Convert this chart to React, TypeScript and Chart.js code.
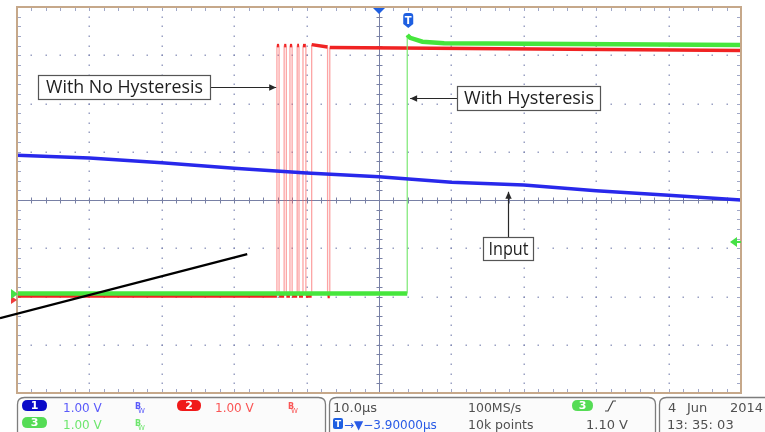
import React, { useEffect, useRef } from "react";
import { Chart, registerables } from "chart.js";

Chart.register(...registerables);

// ---- Data (time in µs, 10 µs/div; level in screen divisions) ----
const inputTimes = [-50, -40, -30, -20, -10, 0, 10, 20, 30, 40, 50];
const inputLevels = [0.93, 0.87, 0.77, 0.66, 0.56, 0.48, 0.37, 0.31, 0.19, 0.1, 0.0];

const hystTimes = [-50, 3.9, 3.9, 4.3, 6.0, 9.0, 50];
const hystLevels = [-1.94, -1.94, 3.42, 3.36, 3.28, 3.25, 3.21];

const noHystTimes = [
  -50, -14.1, -14.1, -13.8, -13.8, -13.1, -13.1, -12.8, -12.8, -12.3, -12.3, -12.0, -12.0,
  -11.3, -11.3, -11.05, -11.05, -10.5, -10.5, -10.1, -10.1, -9.3, -9.3, -7.1, -7.1, -6.8, -6.8, 50,
];
const noHystLevels = [
  -1.99, -1.99, 3.2, 3.2, -1.99, -1.99, 3.2, 3.2, -1.99, -1.99, 3.2, 3.2, -1.99,
  -1.99, 3.2, 3.2, -1.99, -1.99, 3.2, 3.2, -1.99, -1.99, 3.22, 3.17, -2.0, -2.0, 3.16, 3.1,
];

const xTicks = [-50, -40, -30, -20, -10, 0, 10, 20, 30, 40, 50];
const yTicks = [-4, -3, -2, -1, 0, 1, 2, 3, 4];

const triggerTime = 3.9;
const triggerLevel = -0.87;
const ch3Ground = -1.95;
const ch2Ground = -2.07;

// annotation anchors (data coordinates)
const labelNoHyst = { text: "With No Hysteresis", x0: -47.1, x1: -23.3, yTop: 2.59, yBot: 2.09, tipX: -14.2, tipY: 2.34, textW: 157 };
const labelHyst = { text: "With Hysteresis", x0: 10.8, x1: 30.5, yTop: 2.36, yBot: 1.87, tipX: 4.3, tipY: 2.11, textW: 130 };
const labelInput = { text: "Input", x0: 14.4, x1: 21.3, yTop: -0.77, yBot: -1.24, tipX: 17.8, tipY: 0.17, textW: 40 };
const diagLine = { x0: -52.35, y0: -2.45, x1: -18.2, y1: -1.12 };

const pts = (xs: number[], ys: number[]) => xs.map((x, i) => ({ x, y: ys[i] }));

function rr(ctx: CanvasRenderingContext2D, x: number, y: number, w: number, h: number, r: number) {
  ctx.beginPath();
  ctx.moveTo(x + r, y);
  ctx.lineTo(x + w - r, y);
  ctx.quadraticCurveTo(x + w, y, x + w, y + r);
  ctx.lineTo(x + w, y + h - r);
  ctx.quadraticCurveTo(x + w, y + h, x + w - r, y + h);
  ctx.lineTo(x + r, y + h);
  ctx.quadraticCurveTo(x, y + h, x, y + h - r);
  ctx.lineTo(x, y + r);
  ctx.quadraticCurveTo(x, y, x + r, y);
  ctx.closePath();
}

function pill(ctx: CanvasRenderingContext2D, x: number, y: number, w: number, h: number, fill: string, label: string) {
  rr(ctx, x, y, w, h, h / 2);
  ctx.fillStyle = fill;
  ctx.fill();
  ctx.fillStyle = "#ffffff";
  ctx.font = "bold 11px 'DejaVu Sans'";
  ctx.textAlign = "center";
  ctx.textBaseline = "middle";
  ctx.fillText(label, x + w / 2, y + h / 2 + 0.5);
  ctx.textAlign = "left";
  ctx.textBaseline = "alphabetic";
}

function bw(ctx: CanvasRenderingContext2D, x: number, y: number, color: string) {
  ctx.fillStyle = color;
  ctx.font = "bold 8px 'DejaVu Sans'";
  ctx.fillText("B", x, y - 3);
  ctx.font = "7px 'DejaVu Sans'";
  ctx.fillText("W", x + 3, y + 1);
}

function arrowHead(ctx: CanvasRenderingContext2D, tx: number, ty: number, dx: number, dy: number) {
  const len = Math.hypot(dx, dy);
  const ux = dx / len, uy = dy / len;
  const L = 7, W = 3.2;
  ctx.beginPath();
  ctx.moveTo(tx, ty);
  ctx.lineTo(tx - ux * L - uy * W, ty - uy * L + ux * W);
  ctx.lineTo(tx - ux * L + uy * W, ty - uy * L - ux * W);
  ctx.closePath();
  ctx.fill();
}

const scopePlugin = {
  id: "scopeOverlay",
  beforeDraw(chart: any) {
    const { ctx, width, height } = chart;
    ctx.save();
    ctx.fillStyle = "#ffffff";
    ctx.fillRect(0, 0, width, height);
    ctx.restore();
  },
  beforeDatasetsDraw(chart: any) {
    const { ctx, chartArea: a } = chart;
    const xs = chart.scales.x, ys = chart.scales.y;
    ctx.save();
    // dotted grid
    ctx.fillStyle = "rgba(120,130,175,0.75)";
    for (const t of xTicks) {
      if (t === 0 || t === xTicks[0] || t === xTicks[xTicks.length - 1]) continue;
      const px = Math.round(xs.getPixelForValue(t));
      for (let m = -20; m <= 20; m++) {
        const py = Math.round(ys.getPixelForValue(m * 0.2));
        ctx.fillRect(px - 0.5, py - 0.5, 1.5, 1.5);
      }
    }
    for (const v of yTicks) {
      if (v === 0 || v === yTicks[0] || v === yTicks[yTicks.length - 1]) continue;
      const py = Math.round(ys.getPixelForValue(v));
      for (let m = -25; m <= 25; m++) {
        const px = Math.round(xs.getPixelForValue(m * 2));
        ctx.fillRect(px - 0.5, py - 0.5, 1.5, 1.5);
      }
    }
    // center crosshair
    const cx = Math.round(xs.getPixelForValue(0)) + 0.5;
    const cy = Math.round(ys.getPixelForValue(0)) + 0.5;
    ctx.strokeStyle = "rgb(120,128,165)";
    ctx.lineWidth = 1;
    ctx.beginPath();
    ctx.moveTo(a.left, cy);
    ctx.lineTo(a.right, cy);
    ctx.moveTo(cx, a.top);
    ctx.lineTo(cx, a.bottom);
    for (let m = -25; m <= 25; m++) {
      const px = Math.round(xs.getPixelForValue(m * 2)) + 0.5;
      ctx.moveTo(px, cy - 3);
      ctx.lineTo(px, cy + 3);
    }
    for (let m = -20; m <= 20; m++) {
      const py = Math.round(ys.getPixelForValue(m * 0.2)) + 0.5;
      ctx.moveTo(cx - 3, py);
      ctx.lineTo(cx + 3, py);
    }
    ctx.stroke();
    // edge ticks
    ctx.strokeStyle = "rgba(120,130,175,0.7)";
    ctx.beginPath();
    for (let m = -25; m <= 25; m++) {
      const px = Math.round(xs.getPixelForValue(m * 2)) + 0.5;
      ctx.moveTo(px, a.top);
      ctx.lineTo(px, a.top + 4);
      ctx.moveTo(px, a.bottom);
      ctx.lineTo(px, a.bottom - 4);
    }
    for (let m = -20; m <= 20; m++) {
      const py = Math.round(ys.getPixelForValue(m * 0.2)) + 0.5;
      ctx.moveTo(a.left, py);
      ctx.lineTo(a.left + 4, py);
      ctx.moveTo(a.right, py);
      ctx.lineTo(a.right - 4, py);
    }
    ctx.stroke();
    ctx.restore();
  },
  afterDatasetsDraw(chart: any) {
    const { ctx, chartArea: a } = chart;
    const xs = chart.scales.x, ys = chart.scales.y;
    const X = (v: number) => xs.getPixelForValue(v);
    const Y = (v: number) => ys.getPixelForValue(v);
    ctx.save();
    // frame
    ctx.strokeStyle = "rgb(198,168,138)";
    ctx.lineWidth = 2;
    ctx.strokeRect(a.left, a.top, a.right - a.left, a.bottom - a.top);

    // trigger position marker
    const cx = X(0);
    ctx.fillStyle = "rgb(30,95,225)";
    ctx.beginPath();
    ctx.moveTo(cx - 6, a.top + 1);
    ctx.lineTo(cx + 6, a.top + 1);
    ctx.lineTo(cx, a.top + 7);
    ctx.closePath();
    ctx.fill();
    // T badge
    const tx = X(triggerTime) + 1;
    ctx.beginPath();
    ctx.moveTo(tx - 5, 16);
    ctx.quadraticCurveTo(tx - 5, 13, tx - 2, 13);
    ctx.lineTo(tx + 2, 13);
    ctx.quadraticCurveTo(tx + 5, 13, tx + 5, 16);
    ctx.lineTo(tx + 5, 24);
    ctx.lineTo(tx, 28);
    ctx.lineTo(tx - 5, 24);
    ctx.closePath();
    ctx.fill();
    ctx.fillStyle = "#ffffff";
    ctx.font = "bold 10px 'DejaVu Sans'";
    ctx.textAlign = "center";
    ctx.fillText("T", tx, 24);
    ctx.textAlign = "left";

    // trigger level arrow (right)
    const ty = Y(triggerLevel);
    ctx.fillStyle = "rgb(70,225,70)";
    ctx.beginPath();
    ctx.moveTo(a.right - 11, ty);
    ctx.lineTo(a.right - 4, ty - 5);
    ctx.lineTo(a.right - 4, ty + 5);
    ctx.closePath();
    ctx.fill();
    ctx.fillRect(a.right - 5, ty - 1, 5, 2);

    // ground markers (left)
    const g2 = Y(ch2Ground);
    ctx.fillStyle = "rgb(240,60,60)";
    ctx.beginPath();
    ctx.moveTo(a.left - 6, g2 - 4);
    ctx.lineTo(a.left, g2);
    ctx.lineTo(a.left - 6, g2 + 4);
    ctx.closePath();
    ctx.fill();
    const g3 = Y(ch3Ground);
    ctx.fillStyle = "rgb(70,225,70)";
    ctx.beginPath();
    ctx.moveTo(a.left - 6, g3 - 5);
    ctx.lineTo(a.left + 1, g3);
    ctx.lineTo(a.left - 6, g3 + 5);
    ctx.closePath();
    ctx.fill();

    // annotations
    const drawLabel = (lb: any) => {
      const x0 = Math.round(X(lb.x0)) + 0.5, x1 = Math.round(X(lb.x1)) + 0.5;
      const y0 = Math.round(Y(lb.yTop)) + 0.5, y1 = Math.round(Y(lb.yBot)) + 0.5;
      ctx.fillStyle = "#ffffff";
      ctx.fillRect(x0, y0, x1 - x0, y1 - y0);
      ctx.strokeStyle = "rgb(85,85,85)";
      ctx.lineWidth = 1.2;
      ctx.strokeRect(x0, y0, x1 - x0, y1 - y0);
      ctx.font = "18px 'Open Sans'";
      const w = ctx.measureText(lb.text).width;
      ctx.save();
      ctx.translate((x0 + x1) / 2, y0 + 17.5);
      ctx.scale(lb.textW / w, 1);
      ctx.textAlign = "center";
      ctx.fillStyle = "rgb(30,30,30)";
      ctx.fillText(lb.text, 0, 0);
      ctx.restore();
    };
    const drawArrow = (fx: number, fy: number, txp: number, typ: number) => {
      ctx.strokeStyle = "rgb(40,40,40)";
      ctx.fillStyle = "rgb(40,40,40)";
      ctx.lineWidth = 1.2;
      ctx.beginPath();
      ctx.moveTo(fx, fy);
      ctx.lineTo(txp, typ);
      ctx.stroke();
      arrowHead(ctx, txp, typ, txp - fx, typ - fy);
    };
    {
      const lb = labelNoHyst;
      const yy = Math.round(Y(lb.tipY)) + 0.5;
      drawArrow(X(lb.x1), yy, X(lb.tipX), yy);
      drawLabel(lb);
    }
    {
      const lb = labelHyst;
      const yy = Math.round(Y(lb.tipY)) + 0.5;
      drawArrow(X(lb.x0), yy, X(lb.tipX), yy);
      drawLabel(lb);
    }
    {
      const lb = labelInput;
      const xx = Math.round(X(lb.tipX)) + 0.5;
      drawArrow(xx, Y(lb.yTop), xx, Y(lb.tipY));
      drawLabel(lb);
    }
    // diagonal pointer line
    ctx.strokeStyle = "#000000";
    ctx.lineWidth = 2.4;
    ctx.beginPath();
    ctx.moveTo(X(diagLine.x0), Y(diagLine.y0));
    ctx.lineTo(X(diagLine.x1), Y(diagLine.y1));
    ctx.stroke();

    // status bar
    const top = 397.5;
    ctx.lineWidth = 1.3;
    ctx.strokeStyle = "rgb(125,125,125)";
    ctx.fillStyle = "rgb(251,251,251)";
    rr(ctx, 17.5, top, 308, 50, 7);
    ctx.fill();
    ctx.stroke();
    rr(ctx, 329.5, top, 326, 50, 7);
    ctx.fillStyle = "rgb(251,251,251)";
    ctx.fill();
    ctx.stroke();
    rr(ctx, 659.5, top, 120, 50, 7);
    ctx.fillStyle = "rgb(251,251,251)";
    ctx.fill();
    ctx.stroke();

    const r1 = 412, r2 = 429;
    pill(ctx, 22, 400, 25, 11, "rgb(10,10,200)", "1");
    pill(ctx, 177, 400, 24, 11, "rgb(240,25,25)", "2");
    pill(ctx, 22, 417, 25, 11, "rgb(85,220,85)", "3");
    ctx.font = "12px 'DejaVu Sans'";
    ctx.fillStyle = "rgb(90,90,250)";
    ctx.fillText("1.00 V", 63, r1);
    ctx.fillStyle = "rgb(250,85,85)";
    ctx.fillText("1.00 V", 215, r1);
    ctx.fillStyle = "rgb(110,230,110)";
    ctx.fillText("1.00 V", 63, r2);
    bw(ctx, 135, r1, "rgb(90,90,250)");
    bw(ctx, 288, r1, "rgb(250,85,85)");
    bw(ctx, 135, r2, "rgb(110,230,110)");

    ctx.fillStyle = "rgb(80,80,80)";
    ctx.font = "13px 'DejaVu Sans'";
    ctx.fillText("10.0\u00b5s", 333, r1);
    ctx.font = "12.5px 'DejaVu Sans'";
    ctx.fillText("100MS/s", 468, r1);
    ctx.fillText("10k points", 468, r2);
    ctx.font = "13px 'DejaVu Sans'";
    ctx.fillText("1.10 V", 586, r2);
    ctx.fillText("4", 668, r1);
    ctx.fillText("Jun", 687, r1);
    ctx.textAlign = "right";
    ctx.fillText("2014", 763, r1);
    ctx.textAlign = "left";
    ctx.fillText("13: 35: 03", 667, r2);

    // trigger readouts
    ctx.fillStyle = "rgb(30,95,225)";
    rr(ctx, 333, 418, 10, 11, 2);
    ctx.fill();
    ctx.fillStyle = "#ffffff";
    ctx.font = "bold 9px 'DejaVu Sans'";
    ctx.textAlign = "center";
    ctx.fillText("T", 338, 427);
    ctx.textAlign = "left";
    ctx.fillStyle = "rgb(40,90,230)";
    ctx.font = "12px 'DejaVu Sans'";
    ctx.fillText("\u2192\u25bc\u22123.90000\u00b5s", 344, r2);

    pill(ctx, 572, 400, 21, 11, "rgb(85,220,85)", "3");
    ctx.strokeStyle = "rgb(70,70,70)";
    ctx.lineWidth = 1.2;
    ctx.beginPath();
    ctx.moveTo(605, 411);
    ctx.lineTo(608, 411);
    ctx.lineTo(613, 401);
    ctx.lineTo(616, 401);
    ctx.stroke();

    ctx.restore();
  },
};

export default function App() {
  const ref = useRef<HTMLCanvasElement | null>(null);
  useEffect(() => {
    if (!ref.current) return;
    const edge = (c: any) => c.p0.parsed.x === c.p1.parsed.x;
    const chart = new Chart(ref.current, {
      type: "scatter",
      data: {
        datasets: [
          {
            label: "Input",
            data: pts(inputTimes, inputLevels),
            showLine: true,
            borderColor: "rgb(40,40,235)",
            borderWidth: 3.5,
            pointRadius: 0,
          },
          {
            label: "With Hysteresis",
            data: pts(hystTimes, hystLevels),
            showLine: true,
            borderColor: "rgb(70,230,60)",
            borderWidth: 4.5,
            pointRadius: 0,
            segment: {
              borderColor: (c: any) => (edge(c) ? "rgba(110,230,100,0.9)" : undefined),
              borderWidth: (c: any) => (edge(c) ? 1.2 : undefined),
            },
          },
          {
            label: "With No Hysteresis",
            data: pts(noHystTimes, noHystLevels),
            showLine: true,
            borderColor: "rgb(240,35,35)",
            borderWidth: 3.5,
            pointRadius: 0,
            segment: {
              borderColor: (c: any) => (edge(c) ? "rgba(250,90,90,0.55)" : undefined),
              borderWidth: (c: any) => (edge(c) ? 1.3 : undefined),
            },
          },
        ],
      },
      options: {
        animation: false,
        responsive: false,
        devicePixelRatio: 1,
        events: [],
        layout: { padding: { left: 17, right: 24, top: 7, bottom: 39 } },
        plugins: { legend: { display: false }, tooltip: { enabled: false } },
        scales: {
          x: { type: "linear", min: -50, max: 50, display: false },
          y: { type: "linear", min: -4, max: 4, display: false },
        },
      },
      plugins: [scopePlugin],
    });
    return () => chart.destroy();
  }, []);
  return (
    <div style={{ position: "fixed", left: 0, top: 0, width: 765, height: 432 }}>
      <canvas ref={ref} width={765} height={432} />
    </div>
  );
}
